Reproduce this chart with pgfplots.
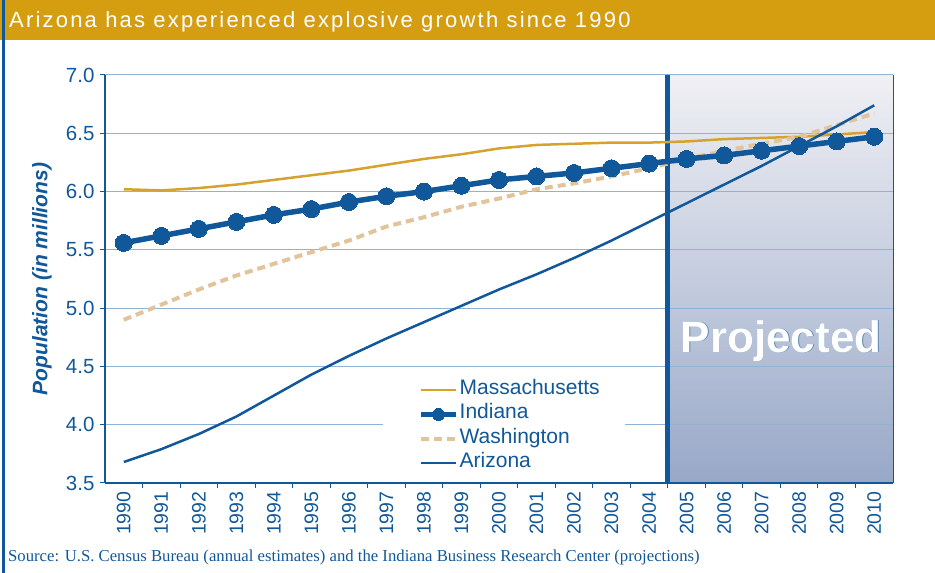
\documentclass[border=0pt]{standalone}
\usepackage{pgfplots}
\pgfplotsset{compat=1.18}
\usepackage{fontspec}
\setmainfont{Liberation Sans}
\newfontfamily\seriffont{Liberation Serif}
\newfontfamily\titlefont[LetterSpace=10]{Liberation Sans}
\definecolor{ablue}{HTML}{11589A}
\definecolor{titlegold}{HTML}{D49E10}
\definecolor{magold}{HTML}{D6A22E}
\definecolor{watan}{HTML}{E2C49C}
\definecolor{gridblue}{HTML}{8FB2D6}
\definecolor{projtop}{HTML}{F0F0F4}
\definecolor{projbot}{HTML}{98A8C8}

\pgfplotstableread{
year ma in wa az
1990 6.02 5.56 4.90 3.68
1991 6.01 5.62 5.03 3.79
1992 6.03 5.68 5.16 3.92
1993 6.06 5.74 5.28 4.07
1994 6.10 5.80 5.38 4.25
1995 6.14 5.85 5.48 4.43
1996 6.18 5.91 5.58 4.59
1997 6.23 5.96 5.70 4.74
1998 6.28 6.00 5.78 4.88
1999 6.32 6.05 5.87 5.02
2000 6.37 6.10 5.94 5.16
2001 6.40 6.13 6.02 5.29
2002 6.41 6.16 6.07 5.43
2003 6.42 6.20 6.13 5.58
2004 6.42 6.24 6.20 5.74
2005 6.43 6.28 6.28 5.90
2006 6.45 6.31 6.35 6.06
2007 6.46 6.35 6.41 6.22
2008 6.47 6.39 6.47 6.39
2009 6.49 6.43 6.57 6.56
2010 6.51 6.47 6.67 6.74
}\datatable

\begin{document}
\begin{tikzpicture}
\fill[titlegold] (0pt,533pt) rectangle (935pt,573pt);
\fill[ablue] (1.5pt,0pt) rectangle (4.5pt,573pt);
\node[anchor=base west, text=white, inner sep=0pt, font=\titlefont\fontsize{22}{22}\selectfont] at (9pt,545pt) {Arizona has experienced explosive growth since 1990};
\node[anchor=base west, text=ablue, inner sep=0pt, font=\seriffont\fontsize{16.7}{16.7}\selectfont] at (8pt,11pt) {Source: U.S. Census Bureau (annual estimates) and the Indiana Business Research Center (projections)};
\begin{axis}[
  set layers,
  at={(105pt,90pt)}, anchor=south west,
  width=788pt, height=408pt, scale only axis,
  xmin=1989.5, xmax=2010.5, ymin=3.5, ymax=7.0,
  axis x line*=bottom, axis y line*=left,
  axis line style={ablue, line width=1.6pt},
  ytick={3.5,4.0,4.5,5.0,5.5,6.0,6.5,7.0},
  ymajorgrids, grid style={gridblue, line width=1pt},
  xtick={1990,...,2010},
  minor xtick={1990.5,1991.5,...,2009.5},
  major x tick style={draw=none},
  minor x tick style={ablue, line width=1pt},
  y tick style={ablue, line width=1pt},
  tick align=outside, major tick length=5pt, minor tick length=5pt,
  yticklabel style={font=\fontsize{20.5}{20.5}\selectfont, text=ablue, xshift=-2pt,
    /pgf/number format/.cd, fixed, fixed zerofill, precision=1, assume math mode=true},
  xticklabel style={rotate=90, anchor=east, font=\fontsize{19.5}{19.5}\selectfont, text=ablue,
    /pgf/number format/.cd, 1000 sep={}, assume math mode=true},
  ylabel={Population (in millions)},
  ylabel style={at={(axis description cs:-0.080,0.5)}, anchor=center, text=ablue,
    font=\bfseries\itshape\fontsize{21}{21}\selectfont},
  legend style={at={(axis description cs:0.3972,0.258)}, anchor=north west,
    fill=none, draw=none, text=ablue, font=\fontsize{21}{21}\selectfont,
    row sep=0pt, inner sep=0pt,
    nodes={inner sep=1pt, text height=15.5pt, text depth=6.8pt, anchor=west}},
  legend cell align=left,
  legend image code/.code={\draw[mark repeat=2,mark phase=2,#1] plot coordinates {(0pt,0pt) (17.5pt,0pt) (35pt,0pt)};},
  clip=false,
]
\begin{pgfonlayer}{axis background}
\fill[top color=projtop, bottom color=projbot] (axis cs:2004.5,3.5) rectangle (axis cs:2010.5,7.0);
\end{pgfonlayer}
\fill[white] (axis description cs:0.353,0.025) rectangle (axis description cs:0.660,0.262);
\draw[ablue, line width=5pt] (axis cs:2004.5,3.5) -- (axis cs:2004.5,7.0);
\draw[ablue, line width=1pt] (axis cs:2010.5,3.5) -- (axis cs:2010.5,7.0);
\node[anchor=base, text=ablue!70, font=\bfseries\fontsize{44}{44}\selectfont] at (axis cs:2007.535,4.623) {Projected};
\node[anchor=base, text=white, font=\bfseries\fontsize{44}{44}\selectfont] at (axis cs:2007.52,4.62) {Projected};

\addlegendimage{magold, line width=2.5pt}
\addlegendentry{Massachusetts}
\addlegendimage{ablue, line width=5.5pt, mark=*, mark size=6pt, mark options={solid, fill=ablue, draw=ablue, line width=0pt}}
\addlegendentry{Indiana}
\addlegendimage{watan, line width=4pt, dash pattern=on 8pt off 5pt}
\addlegendentry{Washington}
\addlegendimage{ablue, line width=2.5pt}
\addlegendentry{Arizona}

\addplot[magold, line width=2.5pt, no marks, forget plot] table[x=year, y=ma] {\datatable};
\addplot[watan, line width=4pt, dash pattern=on 8pt off 5pt, no marks, forget plot] table[x=year, y=wa] {\datatable};
\addplot[ablue, line width=5.5pt, mark=*, mark size=8.5pt, mark options={solid, fill=ablue, draw=ablue, line width=0pt}, forget plot] table[x=year, y=in] {\datatable};
\addplot[ablue, line width=2.5pt, no marks, forget plot] table[x=year, y=az] {\datatable};
\end{axis}
\pgfresetboundingbox
\path[use as bounding box] (0pt,0pt) rectangle (935pt,573pt);
\end{tikzpicture}
\end{document}
